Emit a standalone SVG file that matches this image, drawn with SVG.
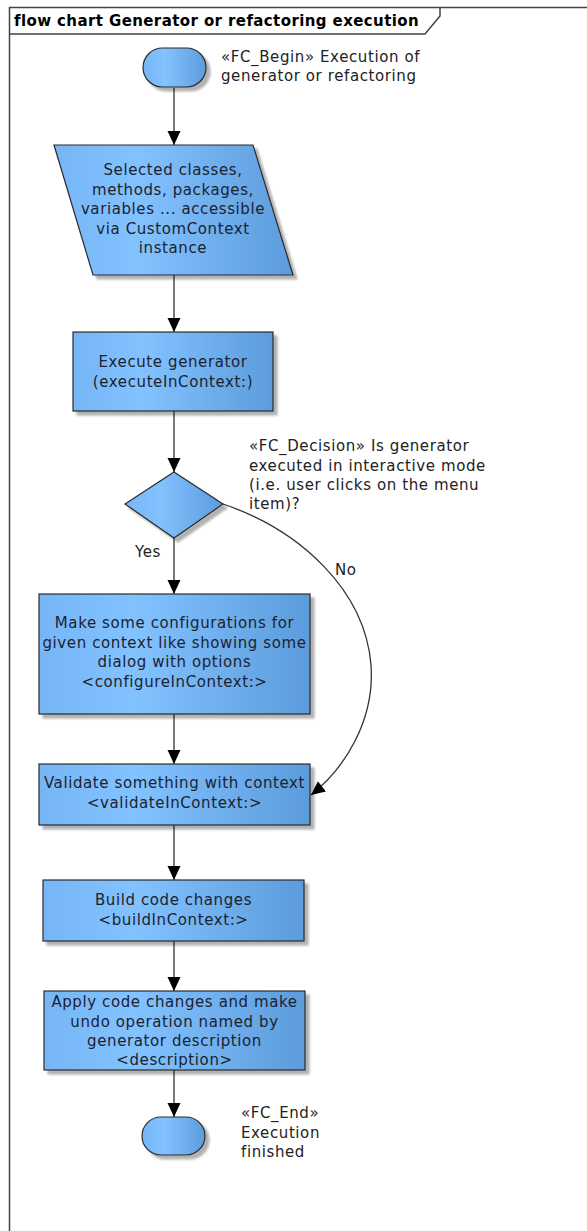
<svg xmlns="http://www.w3.org/2000/svg" width="587" height="1231" viewBox="0 0 587 1231">
  <defs>
    <linearGradient id="blueFill" x1="0" y1="0" x2="1" y2="0">
      <stop offset="0" stop-color="#76b6f6"/>
      <stop offset="0.35" stop-color="#82c2ff"/>
      <stop offset="1" stop-color="#5c9cdc"/>
    </linearGradient>
    <filter id="shadow" x="-10%" y="-10%" width="130%" height="130%">
      <feDropShadow dx="4" dy="4" stdDeviation="1.2" flood-color="#000" flood-opacity="0.3"/>
    </filter>
    <marker id="arrow" markerUnits="userSpaceOnUse" markerWidth="14" markerHeight="14" refX="14" refY="6.5" orient="auto">
      <path d="M0,0 L14,6.5 L0,13 Z" fill="#000"/>
    </marker>
    <style>
      .shape { fill: url(#blueFill); stroke: #2b2b2b; stroke-width: 1.2; filter: url(#shadow); }
      .txt { font-family: "DejaVu Sans", Verdana, sans-serif; font-size: 15px; letter-spacing: 0.6px; fill: #1c2230; }
      .mid { text-anchor: middle; }
      .lbl { font-family: "DejaVu Sans", Verdana, sans-serif; font-size: 15px; letter-spacing: 0.6px; fill: #222; }
      .title { font-family: "DejaVu Sans", Verdana, sans-serif; font-size: 15px; font-weight: bold; letter-spacing: 0.4px; fill: #000; }
      .frame { fill: none; stroke: #444; stroke-width: 1.5; }
      .edge { fill: none; stroke: #333; stroke-width: 1.3; marker-end: url(#arrow); }
    </style>
  </defs>

  <rect width="587" height="1231" fill="#fff"/>

  <!-- diagram frame with name tab -->
  <g id="frame">
    <path class="frame" d="M9.5,1231 L9.5,7.5 L587,7.5"/>
    <path class="frame" d="M9.5,34 L425,34 L440,16 L440,7.5"/>
    <text class="title" x="14" y="26">flow chart Generator or refactoring execution</text>
  </g>

  <!-- connectors -->
  <g id="connectors">
    <path class="edge" d="M174,88 L174,145"/>
    <path class="edge" d="M174,275 L174,332"/>
    <path class="edge" d="M174,411 L174,472"/>
    <path class="edge" d="M174,538 L174,594"/>
    <path class="edge" d="M174,714 L174,764"/>
    <path class="edge" d="M174,825 L174,880"/>
    <path class="edge" d="M174,941 L174,991"/>
    <path class="edge" d="M174,1070 L174,1117"/>
    <path class="edge" d="M223,504 C300,530 365,590 371,665 C375,720 345,768 311,795"/>
    <text class="lbl" x="135" y="557">Yes</text>
    <text class="lbl" x="335" y="575">No</text>
  </g>

  <!-- start terminator -->
  <g id="begin">
    <rect class="shape" x="143" y="48" width="63" height="39" rx="19.5" ry="19.5"/>
    <text class="lbl" x="221" y="62">«FC_Begin» Execution of</text>
    <text class="lbl" x="221" y="81">generator or refactoring</text>
  </g>

  <!-- input data -->
  <g id="input">
    <polygon class="shape" points="54,145 253,145 293,275 93,275"/>
    <text class="txt mid" x="173" y="175">Selected classes,</text>
    <text class="txt mid" x="173" y="195">methods, packages,</text>
    <text class="txt mid" x="173" y="214">variables ... accessible</text>
    <text class="txt mid" x="173" y="234">via CustomContext</text>
    <text class="txt mid" x="173" y="253">instance</text>
  </g>

  <!-- execute step -->
  <g id="execute">
    <rect class="shape" x="73" y="332" width="200" height="79"/>
    <text class="txt mid" x="173" y="367">Execute generator</text>
    <text class="txt mid" x="173" y="387">(executeInContext:)</text>
  </g>

  <!-- decision -->
  <g id="decision">
    <polygon class="shape" points="174,472 223,504 174,538 125,504"/>
    <text class="lbl" x="249" y="451">«FC_Decision» Is generator</text>
    <text class="lbl" x="249" y="471">executed in interactive mode</text>
    <text class="lbl" x="249" y="490">(i.e. user clicks on the menu</text>
    <text class="lbl" x="249" y="509">item)?</text>
  </g>

  <!-- configure step -->
  <g id="configure">
    <rect class="shape" x="39" y="594" width="271" height="120"/>
    <text class="txt mid" x="174.5" y="628">Make some configurations for</text>
    <text class="txt mid" x="174.5" y="648">given context like showing some</text>
    <text class="txt mid" x="174.5" y="667">dialog with options</text>
    <text class="txt mid" x="174.5" y="687">&lt;configureInContext:&gt;</text>
  </g>

  <!-- validate step -->
  <g id="validate">
    <rect class="shape" x="39" y="764" width="271" height="61"/>
    <text class="txt mid" x="174.5" y="788">Validate something with context</text>
    <text class="txt mid" x="174.5" y="808">&lt;validateInContext:&gt;</text>
  </g>

  <!-- build step -->
  <g id="build">
    <rect class="shape" x="43" y="880" width="261" height="61"/>
    <text class="txt mid" x="173.5" y="905">Build code changes</text>
    <text class="txt mid" x="173.5" y="925">&lt;buildInContext:&gt;</text>
  </g>

  <!-- apply step -->
  <g id="apply">
    <rect class="shape" x="44" y="991" width="261" height="79"/>
    <text class="txt mid" x="174.5" y="1007">Apply code changes and make</text>
    <text class="txt mid" x="174.5" y="1027">undo operation named by</text>
    <text class="txt mid" x="174.5" y="1046">generator description</text>
    <text class="txt mid" x="174.5" y="1065">&lt;description&gt;</text>
  </g>

  <!-- end terminator -->
  <g id="end">
    <rect class="shape" x="142" y="1117" width="63" height="38" rx="19" ry="19"/>
    <text class="lbl" x="241" y="1118">«FC_End»</text>
    <text class="lbl" x="241" y="1138">Execution</text>
    <text class="lbl" x="241" y="1157">finished</text>
  </g>
</svg>
